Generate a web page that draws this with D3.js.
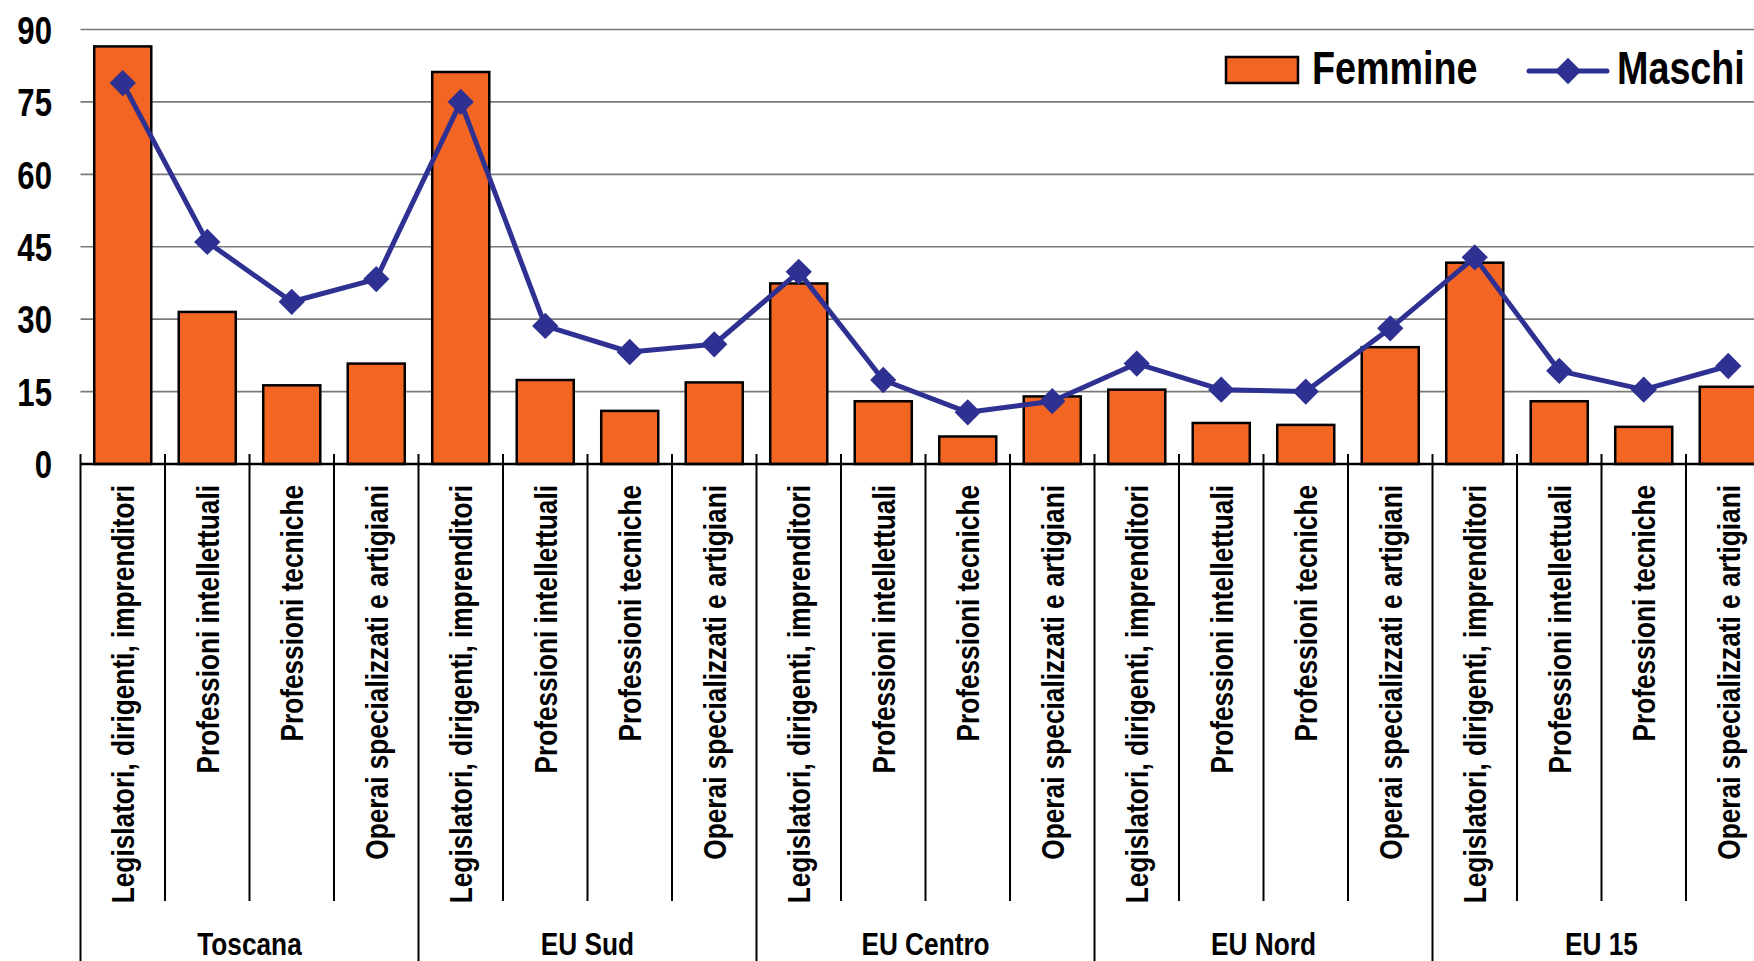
<!DOCTYPE html>
<html>
<head>
<meta charset="utf-8">
<script src="https://cdn.jsdelivr.net/npm/d3@7"></script>
<style>
  body { margin: 0; background: #fff; }
  svg text { font-family: "Liberation Sans", Arial, sans-serif; font-weight: bold; }
</style>
</head>
<body>
<div class="chart"></div>
<script>
// data
var groups = ["Toscana", "EU Sud", "EU Centro", "EU Nord", "EU 15"];
var occupations = ["Legislatori, dirigenti, imprenditori", "Professioni intellettuali",
                   "Professioni tecniche", "Operai specializzati e artigiani"];
var femmine = [86.5, 31.5, 16.3, 20.8,  81.2, 17.4, 11.0, 16.9,  37.4, 13.0, 5.7, 14.0,
               15.4, 8.5, 8.1, 24.2,  41.7, 13.0, 7.7, 16.0];
var maschi = [78.9, 46.0, 33.6, 38.3,  75.0, 28.6, 23.2, 24.8,  39.8, 17.4, 10.7, 13.0,
              20.8, 15.4, 15.0, 28.1,  42.8, 19.3, 15.4, 20.3];
var yTicks = [0, 15, 30, 45, 60, 75, 90];

var svgWidth = 1754, svgHeight = 961;
var narrow = 0.82; // squeeze Liberation Sans to look like Arial Narrow

// flat list of categories
var cats = [];
groups.forEach(function (g, gi) {
    occupations.forEach(function (o, oi) {
        cats.push({ group: g, occ: o, i: gi * 4 + oi, f: femmine[gi * 4 + oi], m: maschi[gi * 4 + oi] });
    });
});

var svg = d3.select(".chart")
    .append("svg")
    .attr("width", svgWidth)
    .attr("height", svgHeight);

// scales (plot runs past the right edge, like the reference)
var xScale = d3.scaleBand()
    .domain(cats.map(d => d.i))
    .range([80.5, 1770.5]);

var yScale = d3.scaleLinear()
    .domain([0, 90])
    .range([464, 29.5]);

var step = xScale.bandwidth();
var barW = step * 0.675;

// gridlines
svg.append("g")
    .selectAll("line")
    .data(yTicks.filter(t => t > 0))
    .enter()
    .append("line")
    .attr("x1", 80.5)
    .attr("x2", svgWidth)
    .attr("y1", d => yScale(d))
    .attr("y2", d => yScale(d))
    .attr("stroke", "#7a7a7a")
    .attr("stroke-width", 1.6);

// y tick labels
var yAxis = d3.axisLeft(yScale).tickValues(yTicks).tickSize(0).tickPadding(0);
var yg = svg.append("g")
    .attr("transform", "translate(52,0)")
    .call(yAxis);
yg.select(".domain").remove();
yg.selectAll(".tick text")
    .attr("x", null)
    .attr("transform", `scale(${narrow},1)`)
    .attr("font-size", 38)
    .attr("font-family", null)
    .attr("fill", "#000")
    .attr("dy", "0.36em");

// bars
svg.append("g")
    .selectAll("rect")
    .data(cats)
    .enter()
    .append("rect")
    .attr("x", d => xScale(d.i) + (step - barW) / 2)
    .attr("y", d => yScale(d.f))
    .attr("width", barW)
    .attr("height", d => yScale(0) - yScale(d.f))
    .attr("fill", "#F26522")
    .attr("stroke", "#000")
    .attr("stroke-width", 2.5);

// maschi line
var line = d3.line()
    .x(d => xScale(d.i) + step / 2)
    .y(d => yScale(d.m));

svg.append("path")
    .datum(cats)
    .attr("d", line)
    .attr("fill", "none")
    .attr("stroke", "#2E3192")
    .attr("stroke-width", 5)
    .attr("stroke-linejoin", "round");

var diamond = d3.symbol().type(d3.symbolDiamond2).size(440);
svg.append("g")
    .selectAll("path")
    .data(cats)
    .enter()
    .append("path")
    .attr("d", diamond)
    .attr("transform", d => `translate(${xScale(d.i) + step / 2},${yScale(d.m)})`)
    .attr("fill", "#2E3192");

// x axis line
svg.append("line")
    .attr("x1", 80.5).attr("x2", svgWidth)
    .attr("y1", 464).attr("y2", 464)
    .attr("stroke", "#000").attr("stroke-width", 2.5);

// separators / ticks
var bounds = d3.range(0, cats.length + 1);
svg.append("g")
    .selectAll("line")
    .data(bounds)
    .enter()
    .append("line")
    .attr("x1", d => 80.5 + d * step)
    .attr("x2", d => 80.5 + d * step)
    .attr("y1", 454)
    .attr("y2", d => d % 4 == 0 ? svgHeight : 901)
    .attr("stroke", "#000")
    .attr("stroke-width", 2);

// category labels
svg.append("g")
    .selectAll("text")
    .data(cats)
    .enter()
    .append("text")
    .attr("transform", d => `translate(${xScale(d.i) + step / 2},485) rotate(-90) scale(${narrow},1)`)
    .attr("text-anchor", "end")
    .attr("dy", "0.36em")
    .attr("font-size", 32)
    .attr("fill", "#000")
    .text(d => d.occ);

// group labels
svg.append("g")
    .selectAll("text")
    .data(groups)
    .enter()
    .append("text")
    .attr("transform", (d, i) => `translate(${80.5 + (i * 4 + 2) * step},943) scale(${narrow},1)`)
    .attr("dy", "0.36em")
    .attr("text-anchor", "middle")
    .attr("font-size", 32)
    .attr("fill", "#000")
    .text(d => d);

// legend
var legend = svg.append("g");
legend.append("rect")
    .attr("x", 1226).attr("y", 57)
    .attr("width", 72).attr("height", 26)
    .attr("fill", "#F26522")
    .attr("stroke", "#000").attr("stroke-width", 2.5);
legend.append("text")
    .attr("transform", `translate(1312,84) scale(${narrow},1)`)
    .attr("font-size", 46)
    .text("Femmine");
legend.append("line")
    .attr("x1", 1529).attr("x2", 1607)
    .attr("y1", 71).attr("y2", 71)
    .attr("stroke", "#2E3192").attr("stroke-width", 5)
    .attr("stroke-linecap", "round");
legend.append("path")
    .attr("d", diamond)
    .attr("transform", "translate(1568,71)")
    .attr("fill", "#2E3192");
legend.append("text")
    .attr("transform", `translate(1617,84) scale(${narrow},1)`)
    .attr("font-size", 46)
    .text("Maschi");
</script>
</body>
</html>
